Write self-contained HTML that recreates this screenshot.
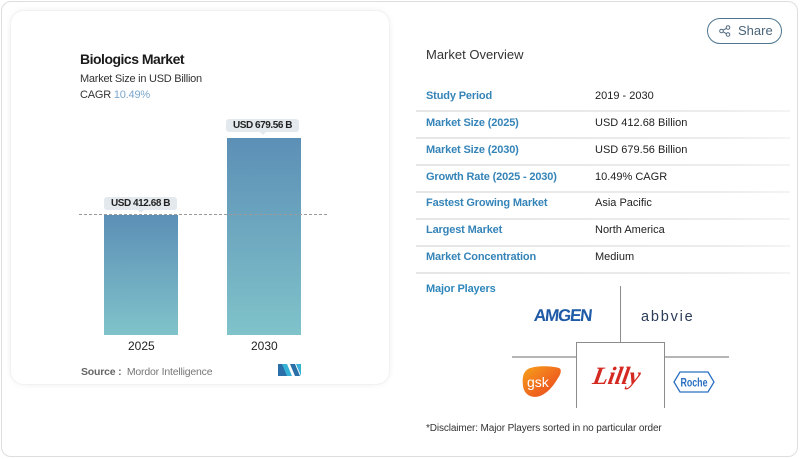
<!DOCTYPE html>
<html><head><meta charset="utf-8">
<style>
*{margin:0;padding:0;box-sizing:border-box}
html,body{width:800px;height:459px;background:#fff;overflow:hidden;font-family:"Liberation Sans",sans-serif}
.abs{position:absolute;white-space:nowrap}
#outer{position:absolute;left:1px;top:1px;width:797px;height:456px;border:1.5px solid #dedede;border-radius:10px;background:#fff}
#card{position:absolute;left:10px;top:10px;width:380px;height:375px;border-radius:14px;background:#fff;box-shadow:0 0 6px rgba(0,0,0,0.06);border:1px solid #f2f2f2}
.bar{position:absolute;background:linear-gradient(#5c8fb6,#80c3ca)}
.lbl{position:absolute;background:#e4e9ed;border-radius:3px;font-size:10px;font-weight:bold;color:#222;text-align:center;line-height:13px;letter-spacing:-0.45px}
.lbl:after{content:"";position:absolute;left:50%;margin-left:-3px;bottom:-3px;border-left:3px solid transparent;border-right:3px solid transparent;border-top:3px solid #e4e9ed}
.row{position:absolute;left:416px;width:374px;height:2px;background:linear-gradient(90deg,#e6e6e6,#ececec 80%,#f4f4f4)}
.k{position:absolute;left:426px;font-size:11px;color:#3584b8;font-weight:bold;letter-spacing:-0.15px;white-space:nowrap}
.v{position:absolute;left:595px;font-size:11px;color:#222;white-space:nowrap}
.ln{position:absolute;background:#8c8c8c}
</style></head><body>
<div id="outer"></div>
<div id="card"></div>

<div class="abs" style="left:80px;top:51px;font-size:14px;font-weight:bold;color:#1a1a1a;letter-spacing:-0.5px">Biologics Market</div>
<div class="abs" style="left:80px;top:73px;font-size:11px;color:#333;letter-spacing:-0.25px">Market Size in USD Billion</div>
<div class="abs" style="left:80px;top:89px;font-size:11px;color:#333;letter-spacing:-0.2px">CAGR <span style="color:#7aa6cc">10.49%</span></div>

<div class="bar" style="left:104px;top:215px;width:74px;height:120px"></div>
<div class="bar" style="left:227px;top:138px;width:74px;height:197px"></div>
<div class="abs" style="left:79px;top:214px;width:248px;height:0;border-top:1px dashed #9a9a9a"></div>
<div class="lbl" style="left:104px;top:197px;width:73px">USD 412.68 B</div>
<div class="lbl" style="left:226px;top:119px;width:73px">USD 679.56 B</div>

<div class="abs" style="left:128px;top:339px;font-size:12px;color:#222">2025</div>
<div class="abs" style="left:251px;top:339px;font-size:12px;color:#222">2030</div>

<div class="abs" style="left:81px;top:366px;font-size:10.5px;color:#666;letter-spacing:-0.2px"><b>Source :</b>&nbsp; <span style="color:#777">Mordor Intelligence</span></div>
<svg class="abs" style="left:278px;top:364px" width="23" height="12" viewBox="0 0 23 12">
<polygon points="0,0 5,0 10,12 0,12" fill="#2b6fa8"/>
<polygon points="4,0 9,0 14,12 9,12" fill="#36b2d6"/>
<polygon points="12,0 17,0 22,12 17,12" fill="#2b6fa8"/>
<polygon points="18,0 23,0 23,12" fill="#36b2d6"/>
</svg>

<!-- right panel -->
<div class="abs" style="left:707px;top:18px;width:75px;height:26px;border:1.3px solid #4f7690;border-radius:13px"></div>
<svg class="abs" style="left:719px;top:25px" width="12" height="12" viewBox="0 0 12 12">
<circle cx="9" cy="2.5" r="1.8" fill="none" stroke="#4f6a80" stroke-width="1"/>
<circle cx="2.5" cy="6" r="1.8" fill="none" stroke="#4f6a80" stroke-width="1"/>
<circle cx="9" cy="9.5" r="1.8" fill="none" stroke="#4f6a80" stroke-width="1"/>
<line x1="4" y1="5.2" x2="7.5" y2="3.3" stroke="#4f6a80" stroke-width="1"/>
<line x1="4" y1="6.8" x2="7.5" y2="8.7" stroke="#4f6a80" stroke-width="1"/>
</svg>
<div class="abs" style="left:738px;top:23px;font-size:13px;color:#4a6579">Share</div>

<div class="abs" style="left:426px;top:47px;font-size:13px;color:#333">Market Overview</div>

<div class="k" style="top:90px">Study Period</div><div class="v" style="top:90px">2019 - 2030</div>
<div class="row" style="top:110px"></div>
<div class="k" style="top:117px">Market Size (2025)</div><div class="v" style="top:117px">USD 412.68 Billion</div>
<div class="row" style="top:137px"></div>
<div class="k" style="top:144px">Market Size (2030)</div><div class="v" style="top:144px">USD 679.56 Billion</div>
<div class="row" style="top:164px"></div>
<div class="k" style="top:171px">Growth Rate (2025 - 2030)</div><div class="v" style="top:171px">10.49% CAGR</div>
<div class="row" style="top:191px"></div>
<div class="k" style="top:197px">Fastest Growing Market</div><div class="v" style="top:197px">Asia Pacific</div>
<div class="row" style="top:218px"></div>
<div class="k" style="top:224px">Largest Market</div><div class="v" style="top:224px">North America</div>
<div class="row" style="top:245px"></div>
<div class="k" style="top:251px">Market Concentration</div><div class="v" style="top:251px">Medium</div>
<div class="row" style="top:272px"></div>

<div class="k" style="top:283px;color:#2e86bb">Major Players</div>

<!-- grid lines -->
<div class="ln" style="left:620px;top:286px;width:1px;height:56px"></div>
<div class="ln" style="left:512px;top:356px;width:64px;height:1.5px;background:#b5b5b5"></div>
<div class="ln" style="left:664px;top:356px;width:65px;height:1.5px;background:#b5b5b5"></div>
<div class="abs" style="left:576px;top:342px;width:89px;height:66px;border:1px solid #8c8c8c;border-bottom:none"></div>

<!-- logos -->
<div class="abs" style="left:534px;top:306px;font-size:17px;font-weight:900;color:#1f5ba6;letter-spacing:-1.2px;transform:skewX(-6deg)">AMGEN</div>
<div class="abs" style="left:641px;top:309px;font-size:14.5px;color:#2b3b58;letter-spacing:1.8px">abbvie</div>

<svg class="abs" style="left:522px;top:366px" width="40" height="32" viewBox="0 0 40 32">
<defs><linearGradient id="g" x1="0" y1="0" x2="1" y2="1"><stop offset="0" stop-color="#f7a21b"/><stop offset="0.55" stop-color="#f06a1e"/><stop offset="1" stop-color="#e8461c"/></linearGradient></defs>
<path d="M6,3 C14,-1 30,0 37,2 C40,3 39,8 36,12 C32,19 26,27 18,30 C9,33 2,28 1,20 C0,12 1,6 6,3 Z" fill="url(#g)"/>
<text x="5" y="21" font-family="Liberation Sans, sans-serif" font-size="14" fill="#fff">gsk</text>
</svg>

<div class="abs" style="left:593px;top:363px;font-family:'Liberation Serif',serif;font-style:italic;font-weight:bold;font-size:25px;color:#d42a22;letter-spacing:0px;transform:skewX(-10deg)">Lilly</div>

<svg class="abs" style="left:673px;top:371px" width="42" height="22" viewBox="0 0 42 22">
<polygon points="1,11 7,1 35,1 41,11 35,21 7,21" fill="none" stroke="#2a6fc1" stroke-width="1.3"/>
<text x="21" y="15.5" text-anchor="middle" font-family="Liberation Sans, sans-serif" font-size="11.5" font-weight="bold" fill="#2a6fc1" textLength="27" lengthAdjust="spacingAndGlyphs">Roche</text>
</svg>

<div class="abs" style="left:426px;top:423px;font-size:10px;color:#333;letter-spacing:-0.12px">*Disclaimer: Major Players sorted in no particular order</div>
</body></html>
